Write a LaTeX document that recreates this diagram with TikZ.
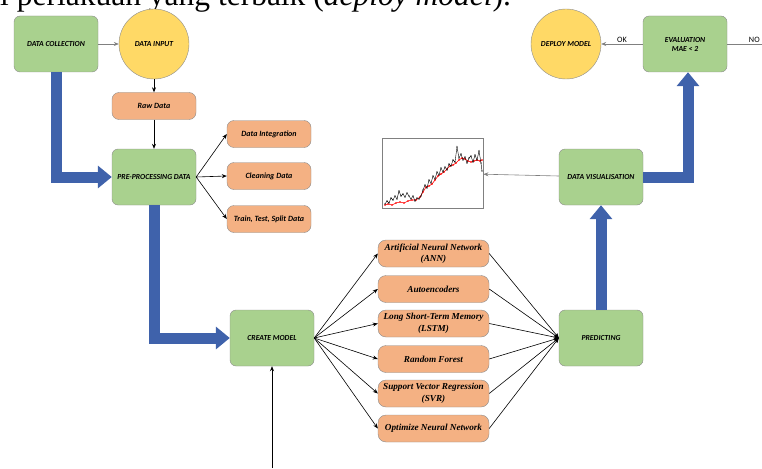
\documentclass[tikz,border=0pt]{standalone}
\usepackage{fontspec}
\setmainfont{Liberation Serif}
\newfontfamily\calfont{Carlito}
\usetikzlibrary{arrows.meta}
\definecolor{gfill}{HTML}{A9D18E}
\definecolor{yfill}{HTML}{FFD966}
\definecolor{ofill}{HTML}{F4B183}
\definecolor{bblue}{HTML}{3F62AB}
\definecolor{bord}{HTML}{8C8C8C}
\definecolor{lgray}{HTML}{808080}
\begin{document}
\begin{tikzpicture}[x=1pt,y=-1pt,
  greenbox/.style={draw=bord, fill=gfill, rounded corners=6pt, minimum width=84pt, minimum height=56pt,
    font=\calfont\bfseries\itshape\fontsize{7.7}{9}\selectfont, align=center, inner sep=1pt},
  ybox/.style={circle, draw=bord, fill=yfill, minimum size=70pt, inner sep=0pt,
    font=\calfont\bfseries\itshape\fontsize{7.7}{9}\selectfont},
  obox/.style={draw=bord, fill=ofill, rounded corners=7pt, minimum width=84pt, minimum height=27pt, inner sep=1pt,
    font=\calfont\bfseries\itshape\fontsize{8}{9.2}\selectfont},
  mbox/.style={draw=bord, fill=ofill, rounded corners=8pt, minimum width=111pt, minimum height=27pt, inner sep=1pt,
    font=\rmfamily\bfseries\itshape\fontsize{9.2}{11.5}\selectfont, align=center},
  conn/.style={-{Stealth[length=5pt,width=4pt]}, line width=0.6pt},
  bigarrow/.style={draw=bblue, line width=11pt, line join=miter, -{Triangle[length=14pt,width=22pt]}},
  lbl/.style={font=\calfont\fontsize{8.2}{9.4}\selectfont, inner sep=1.5pt},
]
\useasboundingbox (0,0) rectangle (762,468);

% clipped header text
\node[anchor=base west, inner sep=0pt, font=\fontsize{31.5}{36}\selectfont] (hdr) at (0,5.5)
  {l perlakuan yang terbaik (\textit{deploy model}).};

% nodes
\node[greenbox] (dc) at (56,44) {DATA COLLECTION};
\node[ybox] (di) at (154,44) {DATA INPUT};
\node[obox] (raw) at (154,106) {Raw Data};
\node[greenbox] (pre) at (154,177) {PRE-PROCESSING DATA};
\node[obox] (int) at (269,134) {Data Integration};
\node[obox] (cln) at (269,176) {Cleaning Data};
\node[obox] (tts) at (269,219) {Train, Test, Split Data};
\node[greenbox] (cm) at (272,338) {CREATE MODEL};

\node[mbox] (m1) at (433.5,253.5) {Artificial Neural Network\\(ANN)};
\node[mbox] (m2) at (433.5,289) {Autoencoders};
\node[mbox] (m3) at (433.5,323.5) {Long Short-Term Memory\\(LSTM)};
\node[mbox] (m4) at (433.5,359) {Random Forest};
\node[mbox] (m5) at (433.5,393.5) {Support Vector Regression\\(SVR)};
\node[mbox] (m6) at (433.5,428.5) {Optimize Neural Network};

\node[greenbox] (pred) at (601,338) {PREDICTING};
\node[greenbox] (dv) at (601,177) {DATA VISUALISATION};
\node[greenbox] (ev) at (685,44) {EVALUATION\\MAE < 2};
\node[ybox] (dm) at (566,44) {DEPLOY MODEL};

% chart
\node[draw=lgray, line width=0.8pt, minimum width=101pt, minimum height=70pt, inner sep=0pt] (ch) at (432.5,173) {};
\draw[red, line width=0.6pt, mark=*, mark size=0.35pt] plot coordinates {
 (385,205) (388,204) (392,205) (396,203) (400,202) (404,203) (408,201) (412,200) (416,200) (420,197)
 (423,192) (426,187) (429,186) (432,184) (435,180) (438,176) (441,174) (444,172) (447,169) (450,166)
 (453,165) (456,163) (459,160) (462,158) (465,159) (468,161) (471,162) (474,161) (477,160) (480,161) (482,160)};
\draw[black, line width=0.4pt, mark=*, mark size=0.45pt] plot coordinates {
 (385,204) (387,201) (389,203) (391,198) (393,200) (395,196) (397,199) (399,191) (401,196) (403,194)
 (405,197) (407,193) (409,196) (411,199) (413,196) (415,201) (417,198) (419,199) (421,196) (423,190)
 (425,185) (427,188) (429,180) (431,183) (433,176) (435,179) (437,172) (439,175) (441,168) (443,172)
 (445,167) (447,170) (449,164) (451,166) (453,160) (455,162) (457,147) (459,158) (461,154) (463,160)
 (465,157) (467,163) (469,158) (471,156) (473,162) (475,155) (477,160) (479,151) (481,163) (482,171)};

% thin connectors
\draw[conn, draw=lgray] (dc) -- (di);
\draw[conn] (di) -- (raw);
\draw[conn] (raw) -- (pre);
\draw[conn] (pre.east) -- (int.west);
\draw[conn] (pre.east) -- (cln.west);
\draw[conn] (pre.east) -- (tts.west);
\foreach \m in {m1,m2,m3,m4,m5,m6} {
  \draw[conn] (cm.east) -- (\m.west);
  \draw[conn] (\m.east) -- (pred.west);
}
\draw[conn, draw=lgray] (dv) -- (ch);
\draw[conn, draw=lgray] (ev) -- node[lbl, above] {OK} (dm);
\coordinate (noend) at (762,44);
\draw[line width=0.6pt, lgray] (ev) -- node[lbl, above, pos=0.78, text=black] {NO} (noend);
\coordinate (up) at (272,468);
\draw[conn] (up) -- (cm.south);

% big blue arrows
\draw[bigarrow] (dc.south) -- (dc.south |- pre.west) -- (pre.west);
\draw[bigarrow] (pre.south) -- (pre.south |- cm.west) -- (cm.west);
\draw[bigarrow] (pred.north) -- (dv.south);
\coordinate (ebot) at ([xshift=3pt]ev.south);
\draw[bigarrow] (dv.east) -- (dv.east -| ebot) -- (ebot);
\end{tikzpicture}
\end{document}
